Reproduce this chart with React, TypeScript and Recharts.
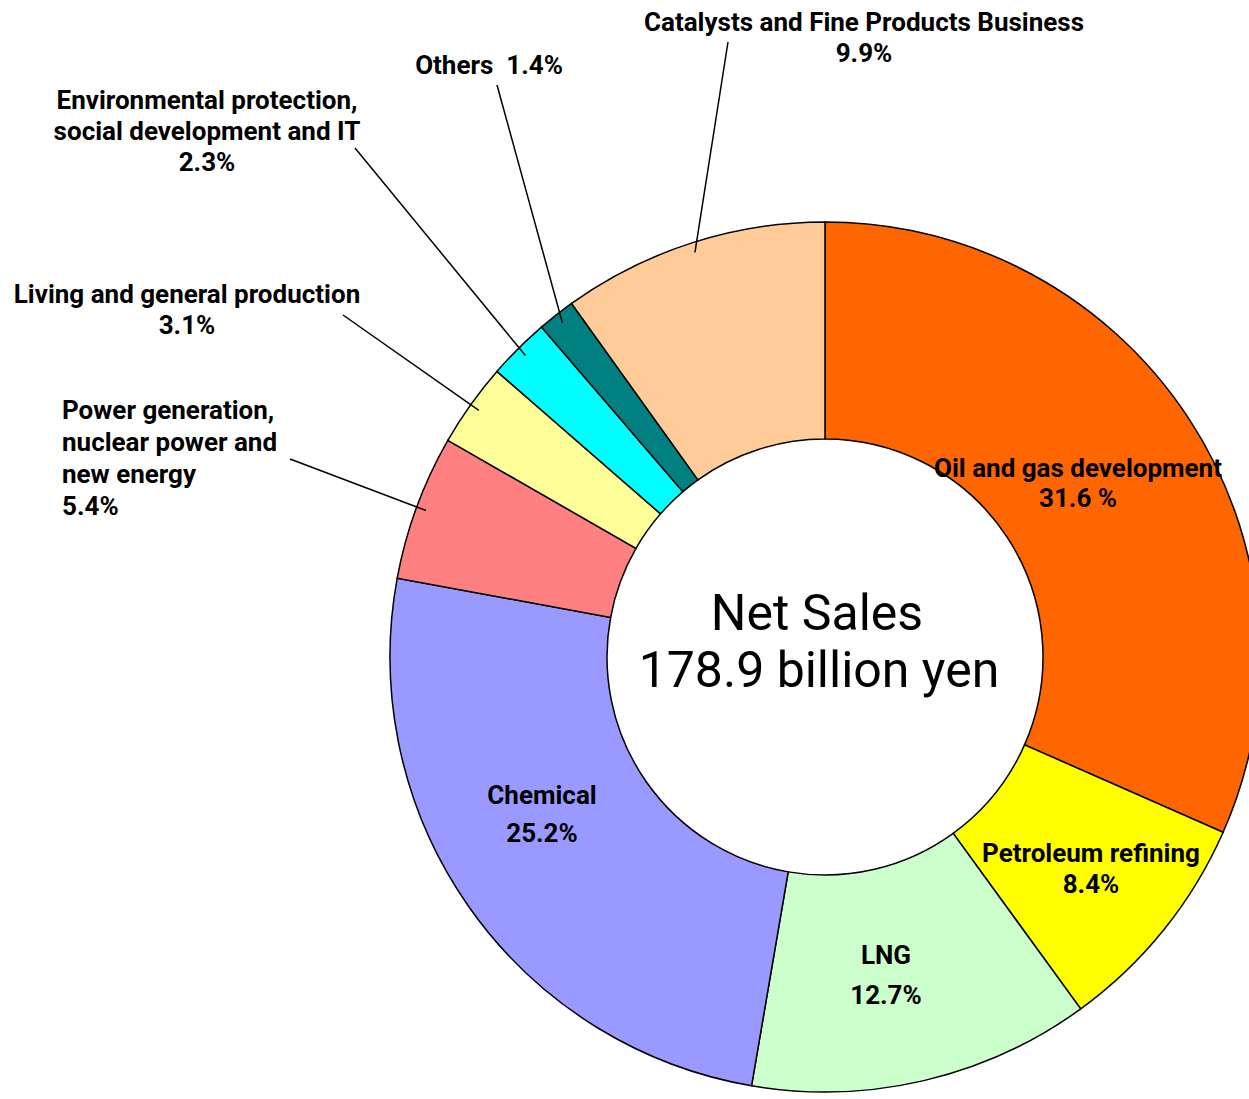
import { PieChart, Pie, Cell } from 'recharts'

const categories = [
  'Oil and gas development',
  'Petroleum refining',
  'LNG',
  'Chemical',
  'Power generation, nuclear power and new energy',
  'Living and general production',
  'Environmental protection, social development and IT',
  'Others',
  'Catalysts and Fine Products Business',
]
const shares = [31.6, 8.4, 12.7, 25.2, 5.4, 3.1, 2.3, 1.4, 9.9]
const pctText = ['31.6 %', '8.4%', '12.7%', '25.2%', '5.4%', '3.1%', '2.3%', '1.4%', '9.9%']
const nameLines = [
  ['Oil and gas development'],
  ['Petroleum refining'],
  ['LNG'],
  ['Chemical'],
  ['Power generation,', 'nuclear power and', 'new energy'],
  ['Living and general production'],
  ['Environmental protection,', 'social development and IT'],
  ['Others'],
  ['Catalysts and Fine Products Business'],
]
const colors = ['#FF6600', '#FFFF00', '#CCFFCC', '#9999FF', '#FF8080', '#FFFF99', '#00FFFF', '#008080', '#FFCC99']

// where each label sits (pixels in the chart), and where its leader line begins
type LabelPos = { x: number; y: number; gap: number; anchor: 'start' | 'middle'; lead?: [number, number]; inline?: boolean }
const labelPos: LabelPos[] = [
  { x: 1078, y: 468, gap: 30, anchor: 'middle' },
  { x: 1091, y: 853, gap: 31, anchor: 'middle' },
  { x: 886, y: 955, gap: 40, anchor: 'middle' },
  { x: 542, y: 795, gap: 38, anchor: 'middle' },
  { x: 62, y: 410, gap: 32, anchor: 'start', lead: [290, 459] },
  { x: 187, y: 294, gap: 31, anchor: 'middle', lead: [343, 315] },
  { x: 207, y: 100, gap: 31, anchor: 'middle', lead: [355, 148] },
  { x: 489, y: 65, gap: 31, anchor: 'middle', lead: [497, 85], inline: true },
  { x: 864, y: 22, gap: 31, anchor: 'middle', lead: [728, 42] },
]

const data = categories.map((name, i) => ({ name, value: shares[i] }))

const FONT = 'Roboto, "Noto Sans", sans-serif'
const RAD = Math.PI / 180

function renderLabel(props: any) {
  const { cx, cy, midAngle, outerRadius, index } = props
  const p = labelPos[index]
  const lines = p.inline ? [`${nameLines[index][0]}  ${pctText[index]}`] : [...nameLines[index], pctText[index]]
  let line = null
  if (p.lead) {
    const r = outerRadius - 10
    const ex = cx + r * Math.cos(-midAngle * RAD)
    const ey = cy + r * Math.sin(-midAngle * RAD)
    line = <line x1={p.lead[0]} y1={p.lead[1]} x2={ex} y2={ey} stroke="#000" strokeWidth={1.5} />
  }
  return (
    <g key={`lbl-${index}`}>
      {line}
      {lines.map((t, k) => (
        <text
          key={k}
          x={p.x}
          y={p.y + k * p.gap}
          textAnchor={p.anchor}
          dominantBaseline="central"
          fontFamily={FONT}
          fontSize={26}
          fontWeight={700}
          fill="#000"
          style={{ whiteSpace: 'pre' }}
        >
          {t}
        </text>
      ))}
      {index === 0 && (
        <g>
          <text x={cx - 8} y={cy - 44} textAnchor="middle" dominantBaseline="central" fontFamily={FONT} fontSize={50} fill="#000">
            Net Sales
          </text>
          <text x={cx - 6} y={cy + 13} textAnchor="middle" dominantBaseline="central" fontFamily={FONT} fontSize={50} fill="#000">
            178.9 billion yen
          </text>
        </g>
      )}
    </g>
  )
}

export default function App() {
  return (
    <div style={{ position: 'absolute', left: 0, top: 0, width: 1249, height: 1099, overflow: 'hidden', background: '#fff' }}>
      <PieChart width={1249} height={1099} margin={{ top: 0, right: 0, bottom: 0, left: 0 }}>
        <Pie
          data={data}
          dataKey="value"
          nameKey="name"
          cx={825}
          cy={657}
          innerRadius={218}
          outerRadius={435}
          startAngle={90}
          endAngle={-270}
          stroke="#000"
          strokeWidth={1.5}
          label={renderLabel}
          labelLine={false}
          isAnimationActive={false}
        >
          {data.map((d, i) => (
            <Cell key={d.name} fill={colors[i]} />
          ))}
        </Pie>
      </PieChart>
    </div>
  )
}
